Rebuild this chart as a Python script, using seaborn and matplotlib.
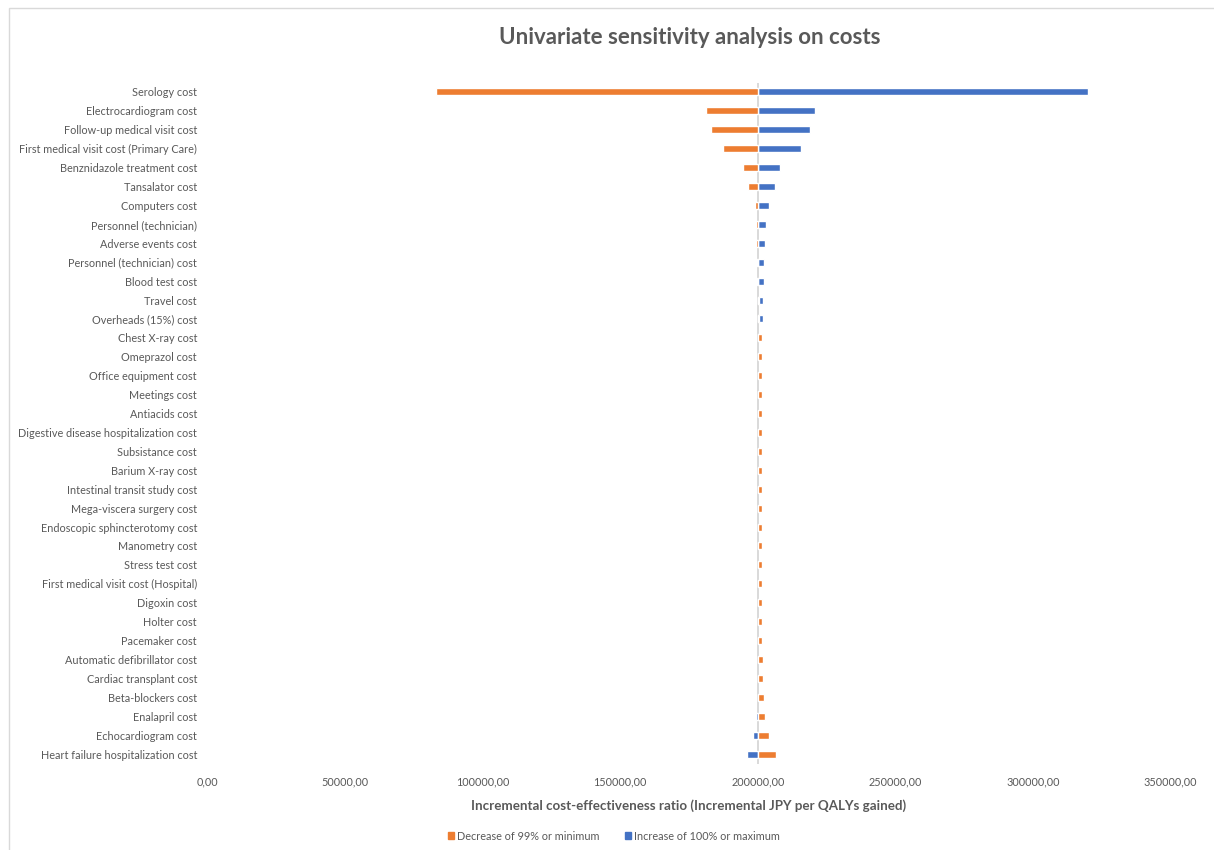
import matplotlib
matplotlib.use("Agg")
import matplotlib.pyplot as plt
import seaborn as sns
import numpy as np
from matplotlib.patches import Rectangle, Patch

# Cost items, listed top to bottom
categories = [
    "Serology cost",
    "Electrocardiogram cost",
    "Follow-up medical visit cost",
    "First medical visit cost (Primary Care)",
    "Benznidazole treatment cost",
    "Tansalator cost",
    "Computers cost",
    "Personnel (technician)",
    "Adverse events cost",
    "Personnel (technician) cost",
    "Blood test cost",
    "Travel cost",
    "Overheads (15%) cost",
    "Chest X-ray cost",
    "Omeprazol cost",
    "Office equipment cost",
    "Meetings cost",
    "Antiacids cost",
    "Digestive disease hospitalization cost",
    "Subsistance cost",
    "Barium X-ray cost",
    "Intestinal transit study cost",
    "Mega-viscera surgery cost",
    "Endoscopic sphincterotomy cost",
    "Manometry cost",
    "Stress test cost",
    "First medical visit cost (Hospital)",
    "Digoxin cost",
    "Holter cost",
    "Pacemaker cost",
    "Automatic defibrillator cost",
    "Cardiac transplant cost",
    "Beta-blockers cost",
    "Enalapril cost",
    "Echocardiogram cost",
    "Heart failure hospitalization cost",
]

# Base-case ICER (JPY per QALY gained)
base_icer = 200000

# ICER when the cost decreases by 99% (or takes its minimum)
icer_decrease = [
    83000, 181300, 183100, 187200, 194500, 196300, 198900, 199300, 199300,
    199800, 199800, 200500, 200500, 201500, 201500, 201500, 201500, 201500,
    201500, 201500, 201500, 201500, 201500, 201500, 201500, 201500, 201500,
    201500, 201500, 201500, 201900, 201900, 202400, 202800, 204200, 206500,
]

# ICER when the cost increases by 100% (or takes its maximum)
icer_increase = [
    320000, 220800, 219000, 215600, 207900, 206400, 204000, 203000, 202500,
    202100, 202100, 201900, 201900, 201900, 200000, 200000, 200000, 200000,
    200000, 200000, 200000, 200000, 200000, 200000, 200000, 200000, 200000,
    200000, 200000, 200000, 200000, 200000, 200000, 199300, 198300, 195900,
]

x_ticks = [0, 50000, 100000, 150000, 200000, 250000, 300000, 350000]

ORANGE = "#ED7D31"
BLUE = "#4472C4"
GREY_TXT = "#595959"

sns.set_theme(style="white")
plt.rcParams["font.family"] = ["Lato", "DejaVu Sans"]

W, H = 1214, 850
fig = plt.figure(figsize=(W / 100, H / 100), dpi=100)
fig.patch.set_facecolor("white")

# plot area in pixel coordinates
left_px, right_px, top_px, bot_px = 207.5, 1170.5, 82.5, 763.5
ax = fig.add_axes([left_px / W, 1 - bot_px / H,
                   (right_px - left_px) / W, (bot_px - top_px) / H])

y = np.arange(len(categories))
dec = np.array(icer_decrease, dtype=float)
inc = np.array(icer_increase, dtype=float)
bar_h = 0.37

ax.barh(y, inc - base_icer, left=base_icer, height=bar_h, color=BLUE,
        zorder=2, label="Increase of 100% or maximum")
ax.barh(y, dec - base_icer, left=base_icer, height=bar_h, color=ORANGE,
        zorder=3, label="Decrease of 99% or minimum")

ax.axvline(base_icer, color="#d9d9d9", lw=1.4, zorder=1)

ax.set_xlim(0, 350000)
ax.set_ylim(len(categories) - 0.5, -0.5)
ax.set_yticks(y)
ax.set_yticklabels(categories)
ax.set_xticks(x_ticks)
ax.set_xticklabels([f"{v:.2f}".replace(".", ",") for v in x_ticks])
ax.tick_params(axis="y", length=0, pad=7.5, labelsize=7.8, labelcolor=GREY_TXT)
ax.tick_params(axis="x", length=0, pad=9, labelsize=7.8, labelcolor=GREY_TXT)
for s in ax.spines.values():
    s.set_visible(False)
ax.grid(False)

ax.set_xlabel("Incremental cost-effectiveness ratio (Incremental JPY per QALYs gained)",
              fontsize=9.6, fontweight="bold", color=GREY_TXT, labelpad=9)

fig.text(690 / W, 1 - 37 / H, "Univariate sensitivity analysis on costs",
         ha="center", va="center", fontsize=16, fontweight="bold", color=GREY_TXT)

handles = [Patch(color=ORANGE, label="Decrease of 99% or minimum"),
           Patch(color=BLUE, label="Increase of 100% or maximum")]
fig.legend(handles=handles, loc="center", bbox_to_anchor=(614 / W, 1 - 836 / H),
           ncol=2, frameon=False, fontsize=7.8, labelcolor=GREY_TXT,
           handlelength=0.55, handleheight=0.55, handletextpad=0.3, columnspacing=2.3)

# chart-area border
fig.patches.append(Rectangle((9 / W, -0.1), 1.2, 1 - 8 / H + 0.1,
                             transform=fig.transFigure, fill=False,
                             edgecolor="#d9d9d9", lw=1.0, zorder=0))

fig.savefig("out.png", dpi=100, facecolor="white")
